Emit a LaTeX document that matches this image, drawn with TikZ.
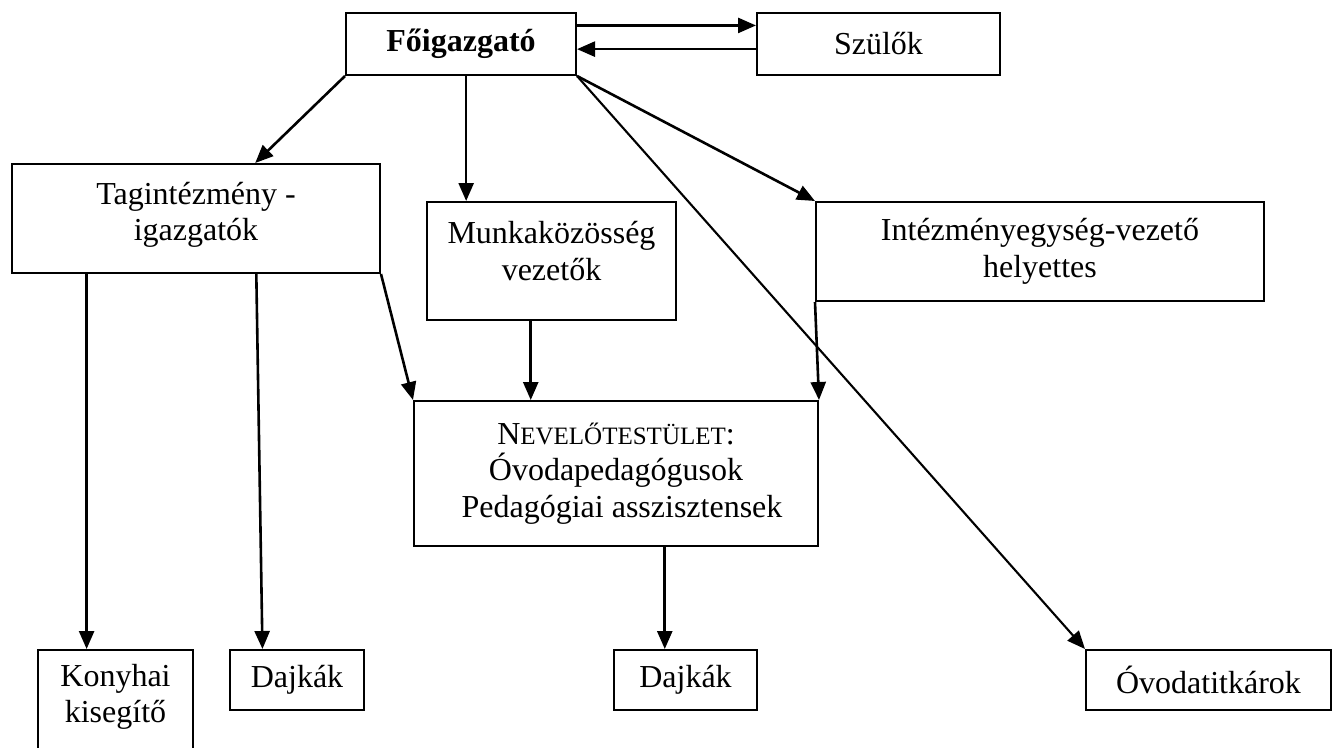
\documentclass[tikz,border=0pt]{standalone}
\usepackage{fontspec}
\setmainfont{Liberation Serif}
\usetikzlibrary{calc,arrows.meta}
\begin{document}
\begin{tikzpicture}[x=1pt,y=-1pt,
  box/.style={draw, line width=2pt, rectangle, inner sep=0pt, align=center,
    font=\fontsize{32}{36.5}\selectfont},
  arr/.style={line width=2.6pt, -{Triangle[length=18pt,width=15pt]}}]
\useasboundingbox (0,0) rectangle (1333,747);
\clip (0,0) rectangle (1333,747);

\node[box, minimum width=230pt, minimum height=62pt,
  font=\fontsize{32}{36.5}\selectfont\bfseries] (fo) at (461,44) {Főigazgató};
\node[box, minimum width=243pt, minimum height=62pt] (szulok) at (878.5,44) {Szülők};
\node[box, minimum width=368pt, minimum height=109pt, text depth=14pt] (tag) at (196,218.5) {Tagintézmény -\\igazgatók};
\node[box, minimum width=249pt, minimum height=118pt, text depth=20pt] (munka) at (551.5,261) {Munkaközösség\\vezetők};
\node[box, minimum width=448pt, minimum height=99pt] (intez) at (1040,251.5) {Intézményegység-vezető\\helyettes};
\node[box, minimum width=404pt, minimum height=145pt] (nevelo) at (616,473.5)
  {N{\fontsize{25}{36.5}\selectfont EVELŐTESTÜLET}:\\Óvodapedagógusok\\\hspace*{12pt}Pedagógiai asszisztensek};
\node[box, minimum width=155pt, minimum height=140pt, text depth=53pt] (konyhai) at (115.5,720) {Konyhai\\kisegítő};
\node[box, minimum width=134pt, minimum height=60pt] (dajka1) at (297,680) {Dajkák};
\node[box, minimum width=143pt, minimum height=60pt] (dajka2) at (685.5,680) {Dajkák};
\node[box, minimum width=245pt, minimum height=60pt] (ovoda) at (1208.5,680) {Óvodatitkárok};

\draw[arr] ($(fo.north east)!0.21!(fo.south east)$) -- ($(szulok.north west)!0.21!(szulok.south west)$);
\draw[arr] ($(szulok.north west)!0.58!(szulok.south west)$) -- ($(fo.north east)!0.58!(fo.south east)$);
\draw[arr] (fo.south west) -- ($(tag.north west)!0.66!(tag.north east)$);
\coordinate (mt) at ($(munka.north west)!0.16!(munka.north east)$);
\draw[arr] (fo.south -| mt) -- (mt);
\draw[arr] (fo.south east) -- (intez.north west);
\draw[arr, line width=2.1pt] (fo.south east) -- (ovoda.north west);
\coordinate (kt) at ($(konyhai.north west)!0.316!(konyhai.north east)$);
\draw[arr] (tag.south -| kt) -- (kt);
\draw[arr] ($(tag.south west)!0.663!(tag.south east)$) -- ($(dajka1.north west)!0.246!(dajka1.north east)$);
\draw[arr] (tag.south east) -- (nevelo.north west);
\coordinate (nt) at ($(nevelo.north west)!0.29!(nevelo.north east)$);
\draw[arr] (munka.south -| nt) -- (nt);
\draw[arr] (intez.south west) -- (nevelo.north east);
\coordinate (dt) at ($(dajka2.north west)!0.357!(dajka2.north east)$);
\draw[arr] (nevelo.south -| dt) -- (dt);
\end{tikzpicture}
\end{document}
